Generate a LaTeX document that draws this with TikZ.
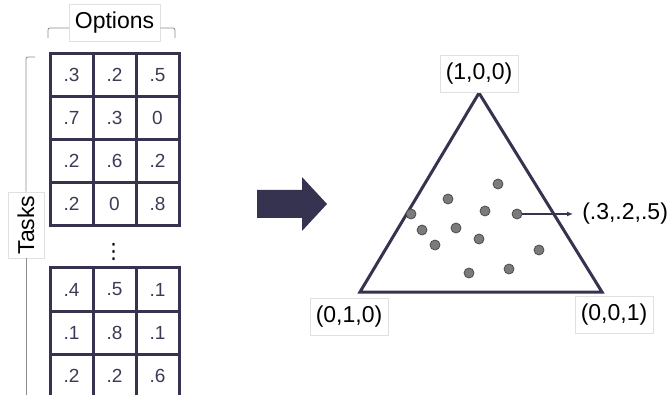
\documentclass[tikz,border=0pt]{standalone}
\usepackage{fontspec}
\setmainfont{Liberation Sans}
\newfontfamily\smxsym{DejaVu Sans}
\usetikzlibrary{arrows.meta}
\definecolor{smxnavy}{HTML}{35334F}
\definecolor{smxtext}{HTML}{3C3B55}
\definecolor{smxdot}{HTML}{7B7B7B}
\tikzset{
  smx/.style={
    x=1pt, y=-1pt,
    font=\fontsize{23}{27}\selectfont,
    line width=0.5pt,
  },
  cell/.style={
    draw=smxnavy, line width=3pt, minimum width=43pt, minimum height=43pt,
    inner sep=0pt, text=smxtext, font=\fontsize{19}{22}\selectfont,
  },
  tag/.style={
    draw=black!12, fill=white, minimum width=78pt, minimum height=37pt, inner sep=2pt,
  },
  bracket/.style={draw=black!45, line width=0.8pt, rounded corners=2pt},
  pt/.style={
    circle, fill=smxdot, draw=black!70, line width=0.8pt, minimum size=10pt, inner sep=0pt,
  },
  ptr/.style={-{Latex[length=6pt, width=5pt]}, draw=smxnavy, line width=1.2pt},
}
\begin{document}
\begin{tikzpicture}[smx]
  \useasboundingbox (0,0) rectangle (669,395);

  % matrix of task/option values
  \foreach \r/\y/\a/\b/\c in {1/75/.3/.2/.5, 2/118/.7/.3/0, 3/161/.2/.6/.2, 4/204/.2/0/.8,
                              5/289.5/.4/.5/.1, 6/332.5/.1/.8/.1, 7/375.5/.2/.2/.6} {
    \node[cell] (c\r a) at (71.5,\y) {\a};
    \node[cell] (c\r b) at (114.5,\y) {\b};
    \node[cell] (c\r c) at (157.5,\y) {\c};
  }
  \node[inner sep=0pt, font=\smxsym\fontsize{21}{22}\selectfont] (vdots) at (113.5,252) {⋮};

  % axis labels
  \node[tag, minimum width=91pt] (options) at (114.5,22.5) {Options};
  \draw[bracket] (48,38) |- (options.west |- 0,28);
  \draw[bracket] (options.east |- 0,28) -| (175,38);
  \node[tag, rotate=90, minimum width=66pt, minimum height=36pt] (tasks) at (26,225) {Tasks};
  \draw[bracket] (35,57) -| (tasks.east);
  \draw[bracket] (tasks.west) -- ++(0,150);

  % block arrow
  \fill[smxnavy] (257,190) -- (302,190) -- (302,177) -- (327,204)
    -- (302,231) -- (302,218) -- (257,218) -- cycle;

  % simplex
  \coordinate (top) at (479,93);
  \coordinate (left) at (360,292);
  \coordinate (right) at (602,292);
  \draw[smxnavy, line width=3pt, line join=miter] (top) -- (left) -- (right) -- cycle;
  \node[tag] (ltop) at (479,73.5) {(1,0,0)};
  \node[tag] (lleft) at (349,316.5) {(0,1,0)};
  \node[tag] (lright) at (614,315) {(0,0,1)};

  \foreach \n/\x/\y in {1/498/184, 2/448/199, 3/485/211, 4/517/214, 5/411/214, 6/422/230,
                        7/456/228, 8/479/239, 9/435/245, 10/539/250, 11/509/269, 12/469/273} {
    \node[pt] (p\n) at (\x,\y) {};
  }
  \node[anchor=west, inner xsep=9pt] (plabel) at (573,214) {(.3,.2,.5)};
  \draw[ptr] (p4) -- (plabel);
\end{tikzpicture}
\end{document}
